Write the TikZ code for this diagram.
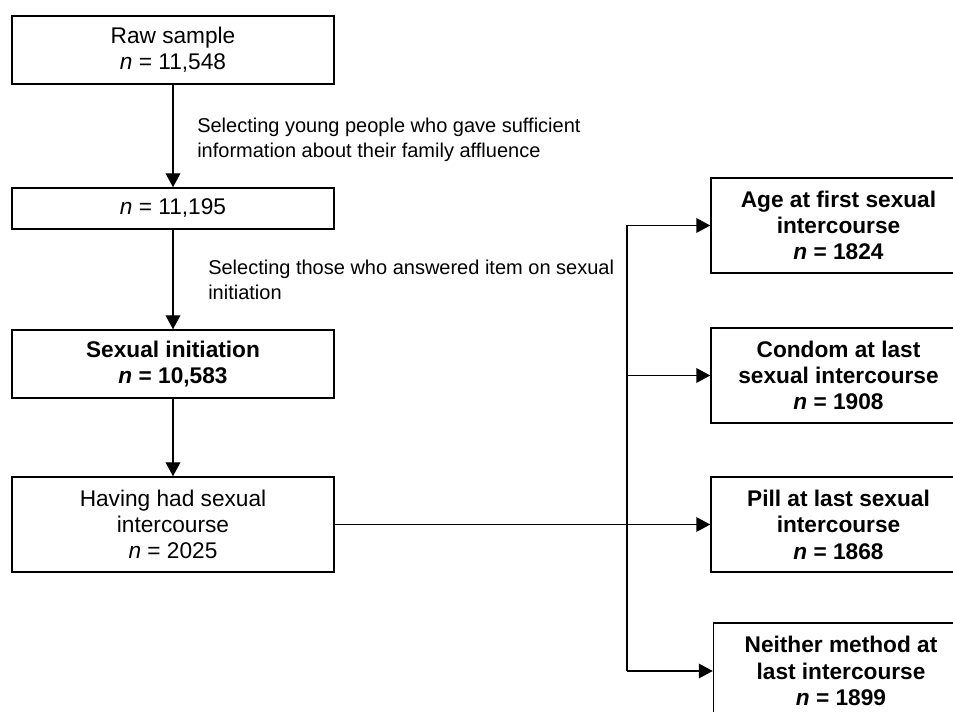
\documentclass[tikz,border=0pt]{standalone}
\usepackage{fontspec}
\setmainfont{Liberation Sans}
\usetikzlibrary{arrows.meta}

\begin{document}
\begin{tikzpicture}[
  x=0.75pt, y=-0.75pt,
  stage/.style  ={draw=black, line width=1.1pt, fill=white, minimum width=241.5pt,
                  inner sep=2pt, align=center, font=\fontsize{17}{19.5}\selectfont},
  outcome/.style={stage, minimum width=191.25pt, minimum height=71.25pt,
                  font=\fontsize{17}{19.8}\selectfont\bfseries},
  note/.style   ={anchor=west, align=left, inner sep=0pt,
                  font=\fontsize{15}{18.75}\selectfont},
  arr/.style    ={-{Triangle[length=10.5pt, width=11pt]}, line width=1.1pt},
  link/.style   ={line width=1.1pt},
]
  \useasboundingbox (0,0) rectangle (953,712);

  % --- left column: the selection steps --------------------------
  \node[stage, minimum height=51pt]    (raw)  at (173,50)    {Raw sample\\\textit{n} = 11,548};
  \node[stage, minimum height=30.75pt] (fam)  at (173,208.5) {\textit{n} = 11,195};
  \node[stage, minimum height=51pt, font=\fontsize{17}{19.5}\selectfont\bfseries]
                                       (init) at (173,364)   {Sexual initiation\\\textit{n} = 10,583};
  \node[stage, minimum height=71.25pt] (had)  at (173,524.5) {Having had sexual\\intercourse\\\textit{n} = 2025};

  \draw[arr] (raw)  -- (fam);
  \draw[arr] (fam)  -- (init);
  \draw[arr] (init) -- (had);

  \node[note] (n1) at (197,139.5)
    {Selecting young people who gave sufficient\\information about their family affluence};
  \node[note] (n2) at (208,280)
    {Selecting those who answered item on sexual\\initiation};

  % --- right column: the four outcomes (cut off at the right edge) --
  \node[outcome] (age)     at (838.5,225.5) {Age at first sexual\\intercourse\\\textit{n} = 1824};
  \node[outcome] (condom)  at (838.5,375.5) {Condom at last\\sexual intercourse\\\textit{n} = 1908};
  \node[outcome] (pill)    at (838.5,524.5) {Pill at last sexual\\intercourse\\\textit{n} = 1868};
  \node[outcome, minimum height=72pt]
                 (neither) at (841,671)     {Neither method at\\last intercourse\\\textit{n} = 1899};

  % --- the branching connector -----------------------------------
  \coordinate (split) at (627,225.5);
  \draw[link] (split) -- (split |- neither.west);
  \draw[arr]  (split) -- (age.west);
  \draw[arr]  (split |- condom.west)  -- (condom.west);
  \draw[arr]  (split |- neither.west) -- (neither.west);
  \draw[arr]  (had.east) -- (pill.west);
\end{tikzpicture}
\end{document}
